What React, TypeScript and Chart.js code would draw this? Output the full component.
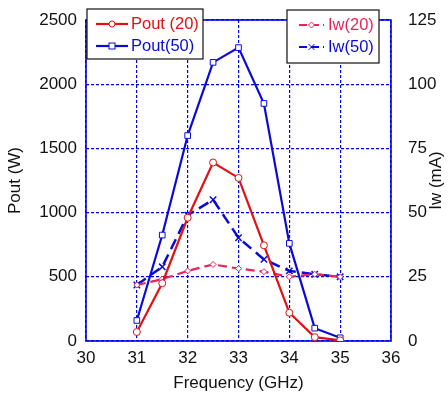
import React, { useEffect, useRef } from "react";
import { Chart, registerables } from "chart.js";

Chart.register(...registerables);

const freqs = [31, 31.5, 32, 32.5, 33, 33.5, 34, 34.5, 35];
const pout20 = [70, 450, 960, 1390, 1270, 745, 220, 30, 5];
const pout50 = [160, 825, 1600, 2170, 2285, 1850, 760, 100, 25];
const iw20 = [21.8, 24.1, 27.3, 29.8, 28.2, 27, 25, 26, 25];
const iw50 = [21.8, 28.9, 49, 55, 40.2, 31.8, 27.3, 26, 25];

const xTicks = [30, 31, 32, 33, 34, 35, 36];
const leftTicks = [0, 500, 1000, 1500, 2000, 2500];
const rightTicks = [0, 25, 50, 75, 100, 125];

const RED = "#e31010";
const PINK = "#e8245a";
const BLUE = "#0a0ad8";
const GRID = "#0000f0";
const FONT = "'Liberation Sans', Arial, sans-serif";

const toXY = (ys: number[]) => ys.map((y, i) => ({ x: freqs[i], y }));
const plain = (v: any) => String(v);

const legendPlugin = {
  id: "customLegends",
  afterDraw(chart: any) {
    const ctx = chart.ctx as CanvasRenderingContext2D;
    const ca = chart.chartArea;
    ctx.save();
    ctx.fillStyle = "#111";
    ctx.font = `17px ${FONT}`;
    ctx.textAlign = "center";
    ctx.textBaseline = "middle";
    ctx.translate(436, (ca.top + ca.bottom) / 2);
    ctx.rotate(-Math.PI / 2);
    ctx.fillText("Iw (mA)", 0, 0);
    ctx.restore();

    const drawBox = (
      x: number,
      y: number,
      w: number,
      h: number,
      items: { label: string; color: string; dash: number[]; marker: string; lx0: number; lx1: number; tx: number; ty: number }[]
    ) => {
      ctx.save();
      ctx.fillStyle = "#fff";
      ctx.fillRect(x, y, w, h);
      ctx.strokeStyle = "#111";
      ctx.lineWidth = 1.2;
      ctx.strokeRect(x, y, w, h);
      for (const it of items) {
        ctx.strokeStyle = it.color;
        ctx.lineWidth = 2.2;
        ctx.setLineDash(it.dash);
        ctx.beginPath();
        ctx.moveTo(it.lx0, it.ty);
        ctx.lineTo(it.lx1, it.ty);
        ctx.stroke();
        ctx.setLineDash([]);
        const mx = (it.lx0 + it.lx1) / 2;
        ctx.lineWidth = 1;
        if (it.marker === "circle") {
          ctx.fillStyle = "#fff";
          ctx.beginPath();
          ctx.arc(mx, it.ty, 3, 0, Math.PI * 2);
          ctx.fill();
          ctx.stroke();
        } else if (it.marker === "rect") {
          ctx.fillStyle = "#fff";
          ctx.fillRect(mx - 3, it.ty - 3, 6, 6);
          ctx.strokeRect(mx - 3, it.ty - 3, 6, 6);
        } else if (it.marker === "diamond") {
          ctx.fillStyle = "#fff";
          ctx.beginPath();
          ctx.moveTo(mx, it.ty - 3);
          ctx.lineTo(mx + 3, it.ty);
          ctx.lineTo(mx, it.ty + 3);
          ctx.lineTo(mx - 3, it.ty);
          ctx.closePath();
          ctx.fill();
          ctx.stroke();
        } else if (it.marker === "cross") {
          ctx.beginPath();
          ctx.moveTo(mx - 3, it.ty - 3);
          ctx.lineTo(mx + 3, it.ty + 3);
          ctx.moveTo(mx + 3, it.ty - 3);
          ctx.lineTo(mx - 3, it.ty + 3);
          ctx.stroke();
        }
        ctx.fillStyle = it.color;
        ctx.font = `16.5px ${FONT}`;
        ctx.textAlign = "left";
        ctx.textBaseline = "middle";
        ctx.fillText(it.label, it.tx, it.ty);
      }
      ctx.restore();
    };

    drawBox(87, 9, 116, 50, [
      { label: "Pout (20)", color: RED, dash: [], marker: "circle", lx0: 96, lx1: 128, tx: 131, ty: 24 },
      { label: "Pout(50)", color: BLUE, dash: [], marker: "rect", lx0: 96, lx1: 128, tx: 131, ty: 46 },
    ]);
    drawBox(287, 10, 92, 53, [
      { label: "Iw(20)", color: PINK, dash: [8, 4], marker: "diamond", lx0: 299, lx1: 324, tx: 328, ty: 25 },
      { label: "Iw(50)", color: BLUE, dash: [8, 4], marker: "cross", lx0: 299, lx1: 324, tx: 328, ty: 47 },
    ]);
  },
  beforeDatasetsDraw(chart: any) {
    const ctx = chart.ctx as CanvasRenderingContext2D;
    const ca = chart.chartArea;
    ctx.save();
    ctx.strokeStyle = GRID;
    ctx.lineWidth = 1.6;
    ctx.strokeRect(ca.left, ca.top, ca.right - ca.left, ca.bottom - ca.top);
    ctx.restore();
  },
};

export default function App() {
  const ref = useRef<HTMLCanvasElement | null>(null);
  useEffect(() => {
    document.body.style.margin = "0";
    if (!ref.current) return;
    const chart = new Chart(ref.current, {
      type: "line",
      data: {
        datasets: [
          {
            label: "Pout (20)",
            data: toXY(pout20),
            yAxisID: "y",
            borderColor: RED,
            backgroundColor: "#fff",
            borderWidth: 2.2,
            pointStyle: "circle",
            pointRadius: 3.5,
            pointBorderWidth: 1,
          },
          {
            label: "Pout(50)",
            data: toXY(pout50),
            yAxisID: "y",
            borderColor: BLUE,
            backgroundColor: "#fff",
            borderWidth: 2.2,
            pointStyle: "rect",
            pointRadius: 4,
            pointBorderWidth: 1,
          },
          {
            label: "Iw(20)",
            data: toXY(iw20),
            yAxisID: "y2",
            borderColor: PINK,
            backgroundColor: "#fff",
            borderWidth: 2.2,
            borderDash: [9, 5],
            pointStyle: "rectRot",
            pointRadius: 3,
            pointBorderWidth: 1,
          },
          {
            label: "Iw(50)",
            data: toXY(iw50),
            yAxisID: "y2",
            borderColor: BLUE,
            backgroundColor: BLUE,
            borderWidth: 2.5,
            borderDash: [11, 6],
            pointStyle: "crossRot",
            pointRadius: 4.5,
            pointBorderWidth: 1.5,
          },
        ],
      },
      options: {
        animation: false,
        responsive: false,
        maintainAspectRatio: false,
        layout: { padding: { top: 20, left: 0, right: 0, bottom: 0 } },
        plugins: { legend: { display: false }, tooltip: { enabled: false } },
        elements: { line: { tension: 0 } },
        scales: {
          x: {
            type: "linear",
            min: 30,
            max: 36,
            afterBuildTicks: (s: any) => {
              s.ticks = xTicks.map((v) => ({ value: v }));
            },
            afterFit: (s: any) => {
              s.height = 53;
            },
            border: { display: false, dash: [3, 2] },
            grid: { color: GRID, lineWidth: 1.2, drawTicks: false },
            ticks: { color: "#111", font: { family: FONT, size: 17 }, padding: 7, callback: plain },
            title: {
              display: true,
              text: "Frequency (GHz)",
              color: "#111",
              font: { family: FONT, size: 17 },
              padding: { top: 0, bottom: 0 },
            },
          },
          y: {
            type: "linear",
            position: "left",
            min: 0,
            max: 2500,
            afterBuildTicks: (s: any) => {
              s.ticks = leftTicks.map((v) => ({ value: v }));
            },
            afterFit: (s: any) => {
              s.width = 86;
            },
            border: { display: false, dash: [3, 2] },
            grid: { color: GRID, lineWidth: 1.2, drawTicks: false },
            ticks: { color: "#111", font: { family: FONT, size: 17 }, padding: 9, callback: plain },
            title: {
              display: true,
              text: "Pout (W)",
              color: "#111",
              font: { family: FONT, size: 17 },
              padding: { top: 5, bottom: 0 },
            },
          },
          y2: {
            type: "linear",
            position: "right",
            min: 0,
            max: 125,
            afterBuildTicks: (s: any) => {
              s.ticks = rightTicks.map((v) => ({ value: v }));
            },
            afterFit: (s: any) => {
              s.width = 57;
            },
            border: { display: false },
            grid: { display: false },
            ticks: { color: "#111", font: { family: FONT, size: 17 }, padding: 9, callback: plain },
          },
        },
      },
      plugins: [legendPlugin],
    } as any);
    return () => chart.destroy();
  }, []);
  return (
    <div style={{ position: "absolute", left: 0, top: 0, width: 448, height: 394, background: "#fff" }}>
      <canvas ref={ref} width={448} height={394} style={{ width: 448, height: 394 }} />
    </div>
  );
}
